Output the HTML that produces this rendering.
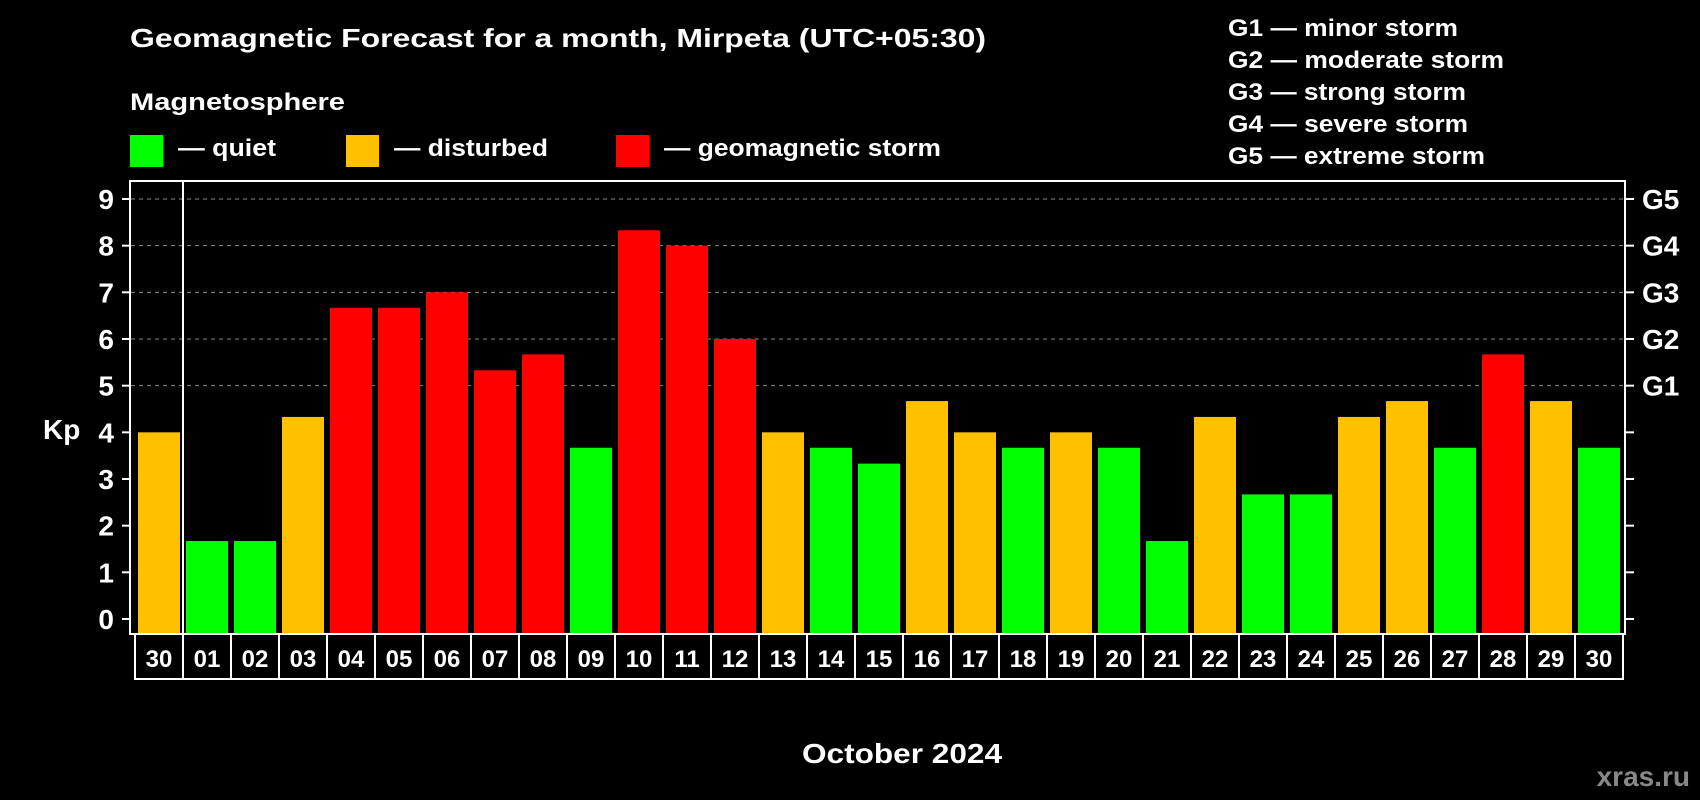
<!DOCTYPE html>
<html><head><meta charset="utf-8"><style>
html,body{margin:0;padding:0;background:#000;}
svg{display:block;font-family:"Liberation Sans",sans-serif;font-weight:bold;}
</style></head><body>
<svg id="chart" width="1700" height="800" viewBox="0 0 1700 800" xmlns="http://www.w3.org/2000/svg">
<rect width="1700" height="800" fill="#000"/>
<text x="130" y="47" fill="#fff" font-size="26" textLength="856" lengthAdjust="spacingAndGlyphs">Geomagnetic Forecast for a month, Mirpeta (UTC+05:30)</text>
<text x="130" y="110" fill="#fff" font-size="24" textLength="215" lengthAdjust="spacingAndGlyphs">Magnetosphere</text>
<rect x="130" y="135" width="33" height="32" fill="#00ff00"/>
<text x="178" y="156" fill="#fff" font-size="24" textLength="98" lengthAdjust="spacingAndGlyphs">— quiet</text>
<rect x="346" y="135" width="33" height="32" fill="#ffc000"/>
<text x="394" y="156" fill="#fff" font-size="24" textLength="154" lengthAdjust="spacingAndGlyphs">— disturbed</text>
<rect x="616" y="135" width="33" height="32" fill="#ff0000"/>
<text x="664" y="156" fill="#fff" font-size="24" textLength="277" lengthAdjust="spacingAndGlyphs">— geomagnetic storm</text>
<g fill="#fff" font-size="24">
<text x="1228" y="36" textLength="230" lengthAdjust="spacingAndGlyphs">G1 — minor storm</text>
<text x="1228" y="68" textLength="276" lengthAdjust="spacingAndGlyphs">G2 — moderate storm</text>
<text x="1228" y="100" textLength="238" lengthAdjust="spacingAndGlyphs">G3 — strong storm</text>
<text x="1228" y="132" textLength="240" lengthAdjust="spacingAndGlyphs">G4 — severe storm</text>
<text x="1228" y="164" textLength="257" lengthAdjust="spacingAndGlyphs">G5 — extreme storm</text>
</g>
<text x="43" y="439" fill="#fff" font-size="28">Kp</text>
<text x="802" y="763" fill="#fff" font-size="28" textLength="200" lengthAdjust="spacingAndGlyphs">October 2024</text>
<text x="1690" y="786" fill="#888" font-size="28" text-anchor="end">xras.ru</text>
<g id="plot"></g>
</svg>
<script>
const days=["30","01","02","03","04","05","06","07","08","09","10","11","12","13","14","15","16","17","18","19","20","21","22","23","24","25","26","27","28","29","30"];
const kp=[4,1.67,1.67,4.33,6.67,6.67,7,5.33,5.67,3.67,8.33,8,6,4,3.67,3.33,4.67,4,3.67,4,3.67,1.67,4.33,2.67,2.67,4.33,4.67,3.67,5.67,4.67,3.67];
const yTicks=[0,1,2,3,4,5,6,7,8,9];
const gLabels=["G1","G2","G3","G4","G5"];
const gLevels=[5,6,7,8,9];
const NS="http://www.w3.org/2000/svg";
const g=document.getElementById('plot');
const y0=619,unit=(619-199)/9;
const Y=v=>y0-v*unit;
const X=i=>138+48*i;
function mk(t,a){const e=document.createElementNS(NS,t);for(const k in a)e.setAttribute(k,a[k]);g.appendChild(e);return e;}
gLevels.forEach(v=>{
 const l=mk('line',{x1:131,x2:1624,y1:Y(v),y2:Y(v),stroke:'#888','stroke-width':1,'stroke-dasharray':'4,4'});
 
 
});
kp.forEach((v,i)=>{
 const c=v>=5?'#ff0000':(v>=4?'#ffc000':'#00ff00');
 const r=mk('rect',{x:X(i),y:Y(v),width:42,height:634-Y(v),fill:c});
 
 
});
const f=mk('rect',{x:130,y:181,width:1495,height:453,fill:'none',stroke:'#fff','stroke-width':2});


const dv=mk('line',{x1:183,x2:183,y1:181,y2:634,stroke:'#fff','stroke-width':2});


yTicks.forEach(v=>{
 const t=mk('line',{x1:122,x2:130,y1:Y(v),y2:Y(v),stroke:'#fff','stroke-width':2});
 
 
 const t2=mk('line',{x1:1625,x2:1634,y1:Y(v),y2:Y(v),stroke:'#fff','stroke-width':2});
 
 
 const tx=mk('text',{x:114,y:Y(v)+10,fill:'#fff','font-size':28,'text-anchor':'end'});
 tx.textContent=v;
 
 
});
gLabels.forEach((s,i)=>{
 const tx=mk('text',{x:1642,y:Y(gLevels[i])+10,fill:'#fff','font-size':28});
 tx.textContent=s;
 
 
});
days.forEach((d,i)=>{
 const b=mk('rect',{x:135+48*i,y:634,width:48,height:45,fill:'none',stroke:'#fff','stroke-width':2});
 
 
 const tx=mk('text',{x:159+48*i,y:667,fill:'#fff','font-size':24,'text-anchor':'middle'});
 tx.textContent=d;
 
 
});
</script>
</body></html>
